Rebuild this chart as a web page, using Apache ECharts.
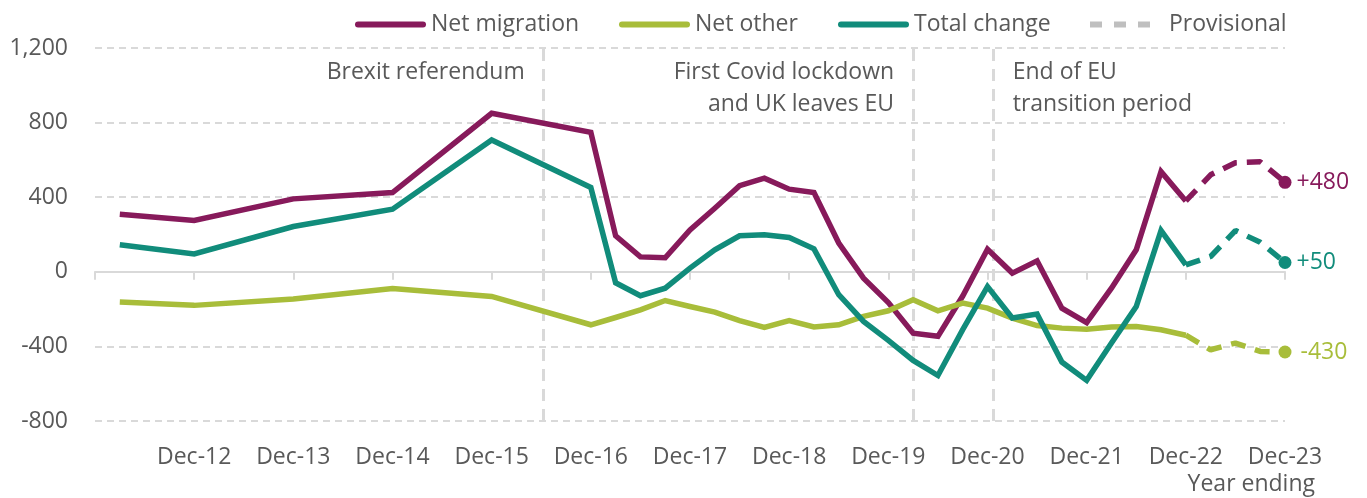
<!DOCTYPE html>
<html>
<head>
<meta charset="utf-8">
<script src="https://cdn.jsdelivr.net/npm/echarts@6/dist/echarts.min.js"></script>
<style>
html,body{margin:0;padding:0;background:#fff;}
#chart{width:1367px;height:498px;}
</style>
</head>
<body>
<div id="chart"></div>
<script>
// ---- Data (thousands, year ending) ----
const periods = ['Mar-12','Dec-12','Dec-13','Dec-14','Dec-15','Dec-16',
  'Mar-17','Jun-17','Sep-17','Dec-17',
  'Mar-18','Jun-18','Sep-18','Dec-18',
  'Mar-19','Jun-19','Sep-19','Dec-19',
  'Mar-20','Jun-20','Sep-20','Dec-20',
  'Mar-21','Jun-21','Sep-21','Dec-21',
  'Mar-22','Jun-22','Sep-22','Dec-22',
  'Mar-23','Jun-23','Sep-23','Dec-23'];
const netMigration = [309,275,391,425,850,748, 193,80,75,225, 341,462,502,443, 425,154,-34,-165, -329,-346,-130,121, -7,59,-195,-273, -88,118,537,380, 520,585,590,480];
const netOther     = [-162,-180,-146,-89,-132,-284, -245,-204,-154,-186, -216,-262,-298,-262, -296,-284,-239,-209, -150,-209,-168,-195, -248,-288,-302,-308, -296,-293,-311,-340, -418,-382,-427,-430];
const totalChange  = [145,96,243,336,707,452, -59,-128,-88,20, 118,193,198,184, 123,-123,-266,-368, -475,-556,-310,-79, -248,-227,-484,-582, -382,-186,221,37, 82,221,158,50];
const provisionalFrom = 'Dec-22';
const xTickLabels = ['','Dec-12','Dec-13','Dec-14','Dec-15','Dec-16','Dec-17','Dec-18','Dec-19','Dec-20','Dec-21','Dec-22','Dec-23'];
const yMin = -800, yMax = 1200, yStep = 400;
// events: position in quarters after Dec-11
const events = [
  {label: 'Brexit referendum', at: 18.1, side: 'left'},
  {label: 'First Covid lockdown\nand UK leaves EU', at: 33, side: 'left'},
  {label: 'End of EU\ntransition period', at: 36.25, side: 'right'}
];

// ---- Helpers ----
const MONTHQ = {Mar: 1, Jun: 2, Sep: 3, Dec: 4};
function qOf(p) { const [m, y] = p.split('-'); return (parseInt(y, 10) - 12) * 4 + MONTHQ[m]; }
const pIdx = periods.indexOf(provisionalFrom);

const FONT = '"Open Sans", "Noto Sans", sans-serif';
const TEXT = '#595959';
const GRIDC = '#D9D9D9';
const C_MIG = '#871A5B', C_OTH = '#A8BD3A', C_TOT = '#118C7B', C_PROV = '#BFBFBF';
const FS = 23;

function solid(name, vals, color) {
  return {
    name, type: 'line', z: 3, xAxisIndex: 0,
    data: periods.slice(0, pIdx + 1).map((p, i) => [qOf(p), vals[i]]),
    symbol: 'none', showSymbol: false,
    lineStyle: {color, width: 5.5, cap: 'butt', join: 'miter'},
    itemStyle: {color},
    emphasis: {disabled: true}, silent: true
  };
}
function prov(name, vals, color) {
  const pts = periods.slice(pIdx).map((p, k) => {
    const v = vals[pIdx + k];
    const last = pIdx + k === periods.length - 1;
    return last ? {
      value: [qOf(p), v], symbol: 'circle', symbolSize: 13,
      label: {show: true, position: 'right', distance: v < 0 ? 9 : 5,
        formatter: (v > 0 ? '+' : '') + v, color, fontSize: FS, fontFamily: FONT}
    } : {value: [qOf(p), v], symbol: 'none'};
  });
  return {
    name: name + ' (provisional)', type: 'line', z: 3, xAxisIndex: 0,
    data: pts, showSymbol: true, symbol: 'none',
    lineStyle: {color, width: 5.5, type: [15, 10], cap: 'butt'},
    itemStyle: {color},
    emphasis: {disabled: true}, silent: true
  };
}

const LINE_ICON = 'path://M3,0H68A3,3,0,0,1,68,6H3A3,3,0,0,1,3,0Z';
const DASH_ICON = 'path://M0,0H12V6H0ZM24,0H36V6H24ZM48,0H60V6H48Z';
const legendBase = {
  top: 13, itemWidth: 71, itemHeight: 6, selectedMode: false, padding: 0,
  textStyle: {fontSize: FS, color: TEXT, fontFamily: FONT}
};

const option = {
  animation: false,
  backgroundColor: '#fff',
  textStyle: {fontFamily: FONT},
  title: {
    text: 'Year ending', right: 52, top: 473, padding: 0,
    textStyle: {fontSize: FS, fontWeight: 'normal', color: TEXT, fontFamily: FONT}
  },
  legend: [
    Object.assign({}, legendBase, {left: 355, data: [{name: 'Net migration', icon: LINE_ICON}]}),
    Object.assign({}, legendBase, {left: 619, data: [{name: 'Net other', icon: LINE_ICON}]}),
    Object.assign({}, legendBase, {left: 838, data: [{name: 'Total change', icon: LINE_ICON}]}),
    Object.assign({}, legendBase, {left: 1090, itemWidth: 60,
      textStyle: {fontSize: FS, color: TEXT, fontFamily: FONT, padding: [0, 0, 0, 14]},
      data: [{name: 'Provisional', icon: DASH_ICON}]})
  ],
  grid: {left: 95, right: 82, top: 48, bottom: 77, containLabel: false, outerBoundsMode: 'none'},
  xAxis: [
    {
      type: 'value', position: 'bottom', min: 0, max: 48, interval: 4,
      axisLine: {show: false, onZero: false},
      axisTick: {show: false},
      splitLine: {show: false},
      axisLabel: {show: true, margin: 25, fontSize: FS, color: TEXT, fontFamily: FONT,
        formatter: v => xTickLabels[Math.round(v / 4)] || ''}
    },
    {
      type: 'value', position: 'bottom', min: 0, max: 48, interval: 4,
      axisLine: {show: true, onZero: true, lineStyle: {color: GRIDC, width: 2}},
      axisTick: {show: true, length: 8, lineStyle: {color: GRIDC, width: 2}},
      splitLine: {show: false},
      axisLabel: {show: false}
    }
  ],
  yAxis: {
    type: 'value', min: yMin, max: yMax, interval: yStep,
    axisLine: {show: false}, axisTick: {show: false},
    axisLabel: {margin: 27, fontSize: FS, color: TEXT, fontFamily: FONT,
      formatter: v => v.toLocaleString('en-US')},
    splitLine: {show: true, lineStyle: {color: GRIDC, width: 2, type: [7, 5]}}
  },
  series: [
    {
      name: 'events', type: 'line', z: 1, xAxisIndex: 0, data: [], silent: true,
      markLine: {
        z: 1, silent: true, symbol: ['none', 'none'], label: {show: false},
        lineStyle: {color: GRIDC, width: 3, type: [12, 8]},
        emphasis: {disabled: true},
        data: events.map(e => ({xAxis: e.at}))
      },
      markPoint: {
        silent: true,
        data: events.map(e => ({
          coord: [e.at, yMax], symbol: 'circle', symbolSize: 0,
          itemStyle: {color: 'rgba(0,0,0,0)'},
          label: {show: true, formatter: e.label, position: e.side, distance: 19,
            verticalAlign: 'top', offset: [0, 8], lineHeight: 32,
            fontSize: FS, color: TEXT, fontFamily: FONT}
        }))
      }
    },
    solid('Net migration', netMigration, C_MIG),
    solid('Net other', netOther, C_OTH),
    solid('Total change', totalChange, C_TOT),
    prov('Net migration', netMigration, C_MIG),
    prov('Net other', netOther, C_OTH),
    prov('Total change', totalChange, C_TOT),
    {name: 'Provisional', type: 'line', data: [], itemStyle: {color: C_PROV}, lineStyle: {color: C_PROV}}
  ]
};

const chart = echarts.init(document.getElementById('chart'), null, {renderer: 'canvas'});
chart.setOption(option);
</script>
</body>
</html>
